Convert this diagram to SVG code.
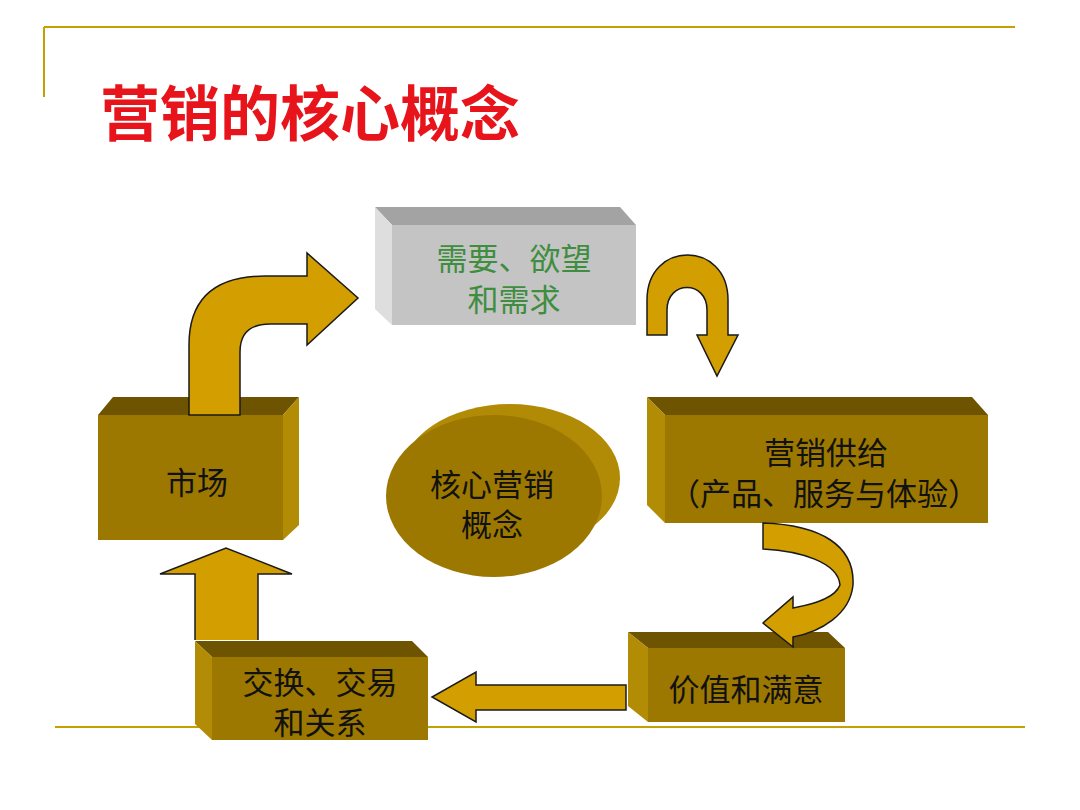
<svg xmlns="http://www.w3.org/2000/svg" width="1080" height="810" viewBox="0 0 1080 810">
<style>
.t{font-family:"Liberation Sans","Noto Sans CJK SC",sans-serif;font-size:31px;text-anchor:middle;fill:#111}
.front{fill:#9c7800}.top{fill:#6e5400}.side{fill:#b38c05}
.arr{fill:#d29e00;stroke:#1a1a1a;stroke-width:1.5;stroke-linejoin:miter}
</style>
<rect width="1080" height="810" fill="#fff"/>
<g stroke="#c4a000" stroke-width="2" fill="none">
<path d="M44,27 H1015 M44,27 V97"/>
<path d="M55,727 H1025"/>
</g>
<text x="100" y="136" style="font-family:'Liberation Sans','Noto Sans CJK SC',sans-serif;font-size:60px;fill:#e8141b;font-weight:bold">营销的核心概念</text>

<g id="needs">
<polygon points="375,207 620,207 636,225 392,225" fill="#a3a3a3"/>
<polygon points="375,207 392,225 392,325 375,309" fill="#dedede"/>
<rect x="392" y="225" width="244" height="100" fill="#c4c4c4"/>
<text class="t" x="514" y="270" style="fill:#3f8d3f">需要、欲望</text>
<text class="t" x="514" y="311" style="fill:#3f8d3f">和需求</text>
</g>
<g id="market">
<polygon class="top" points="113,397 299,397 283,415 98,415"/>
<polygon class="side" points="299,397 283,415 283,540 299,525"/>
<rect class="front" x="98" y="415" width="185" height="125"/>
<text class="t" x="197" y="494">市场</text>
</g>
<g id="core">
<ellipse cx="510" cy="478" rx="110" ry="74" fill="#b18a06"/>
<ellipse cx="494" cy="496" rx="108" ry="81" fill="#9c7800"/>
<text class="t" x="492" y="496">核心营销</text>
<text class="t" x="492" y="536">概念</text>
</g>
<g id="supply">
<polygon class="top" points="647,397 972,397 988,415 665,415"/>
<polygon class="side" points="647,397 665,415 665,523 647,505"/>
<rect class="front" x="665" y="415" width="323" height="108"/>
<text class="t" x="826" y="464">营销供给</text>
<text class="t" x="824" y="505">（产品、服务与体验）</text>
</g>
<g id="value">
<polygon class="top" points="628,632 828,632 845,648 648,648"/>
<polygon class="side" points="628,632 648,648 648,722 628,706"/>
<rect class="front" x="648" y="648" width="197" height="74"/>
<text class="t" x="746" y="701">价值和满意</text>
</g>
<g id="exchange">
<polygon class="top" points="195,641 412,641 428,657 212,657"/>
<polygon class="side" points="195,641 212,657 212,740 195,724"/>
<rect class="front" x="212" y="657" width="216" height="83"/>
<text class="t" x="320" y="694">交换、交易</text>
<text class="t" x="320" y="734">和关系</text>
</g>
<g id="connectors">
<path class="arr" d="M189,415 L189,345 Q189,276 265,276 L307,276 L307,253 L358,298 L307,345 L307,324 L270,324 Q240,324 240,352 L240,415 Z"/>
<path class="arr" d="M647,335 L647,300 C647,240 728,240 728,300 L728,335 L738,335 L717,376 L697,335 L707,335 L707,310 C707,280 667,280 667,310 L667,335 Z"/>
<path class="arr" d="M763,523 C820,525 855,545 853,585 C850,615 820,632 793,637 L793,647 L763,623 L793,597 L793,608 C815,604 835,598 840,585 C838,562 800,551 763,549 Z"/>
<path class="arr" d="M626,685 L476,685 L476,672 L432,697 L476,722 L476,710 L626,710 Z"/>
<path class="arr" d="M195,640 L195,574 L160,574 L226,548 L292,574 L258,574 L258,640"/>
</g>
</svg>
